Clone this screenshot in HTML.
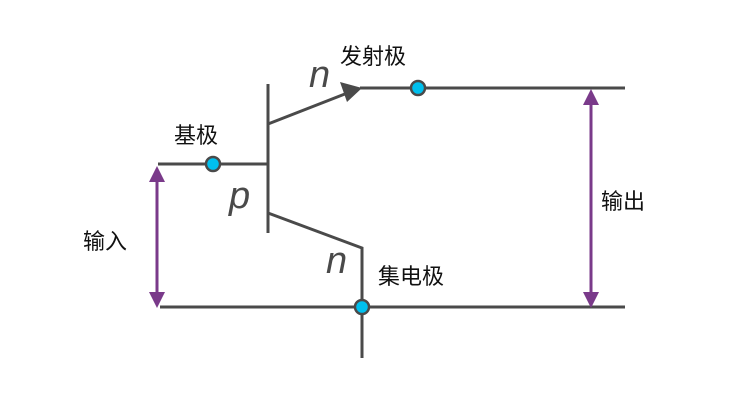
<!DOCTYPE html>
<html><head><meta charset="utf-8"><style>
html,body{margin:0;padding:0;background:#fff;width:750px;height:400px;overflow:hidden}
</style></head><body>
<svg width="750" height="400" xmlns="http://www.w3.org/2000/svg">
<g stroke="#4a4a4a" stroke-width="3" fill="none">
<line x1="268" y1="84" x2="268" y2="233"/>
<line x1="158" y1="164" x2="268" y2="164"/>
<line x1="268" y1="124" x2="350" y2="92"/>
<line x1="360" y1="88" x2="625" y2="88"/>
<polyline points="268,213 362,248 362,358"/>
<line x1="160" y1="307" x2="625" y2="307"/>
</g>
<polygon points="362,88 340,82 347,102" fill="#4a4a4a"/>
<g stroke="#7a3a8a" stroke-width="3" fill="#7a3a8a">
<line x1="157" y1="178" x2="157" y2="296"/>
<line x1="591" y1="102" x2="591" y2="296"/>
</g>
<g fill="#7a3a8a">
<polygon points="157,166 149,182 165,182"/>
<polygon points="157,308 149,292 165,292"/>
<polygon points="591,89 583,105 599,105"/>
<polygon points="591,308 583,292 599,292"/>
</g>
<g fill="#00c0ee" stroke="#4a4a4a" stroke-width="2.5">
<circle cx="213" cy="164" r="7"/>
<circle cx="418" cy="88" r="7"/>
<circle cx="362" cy="307" r="7"/>
</g>
<g font-family="Liberation Sans, sans-serif" font-style="italic" font-size="38" fill="#4a4a4a">
<text x="309" y="87">n</text>
<text x="229" y="208">p</text>
<text x="326" y="273">n</text>
</g>
<g font-family="Liberation Sans, 'Noto Sans CJK SC', sans-serif" font-size="22" fill="#111">
<text x="340" y="64">发射极</text>
<text x="174" y="143">基极</text>
<text x="83" y="249">输入</text>
<text x="601" y="209">输出</text>
<text x="378" y="284">集电极</text>
</g>
</svg>
</body></html>
